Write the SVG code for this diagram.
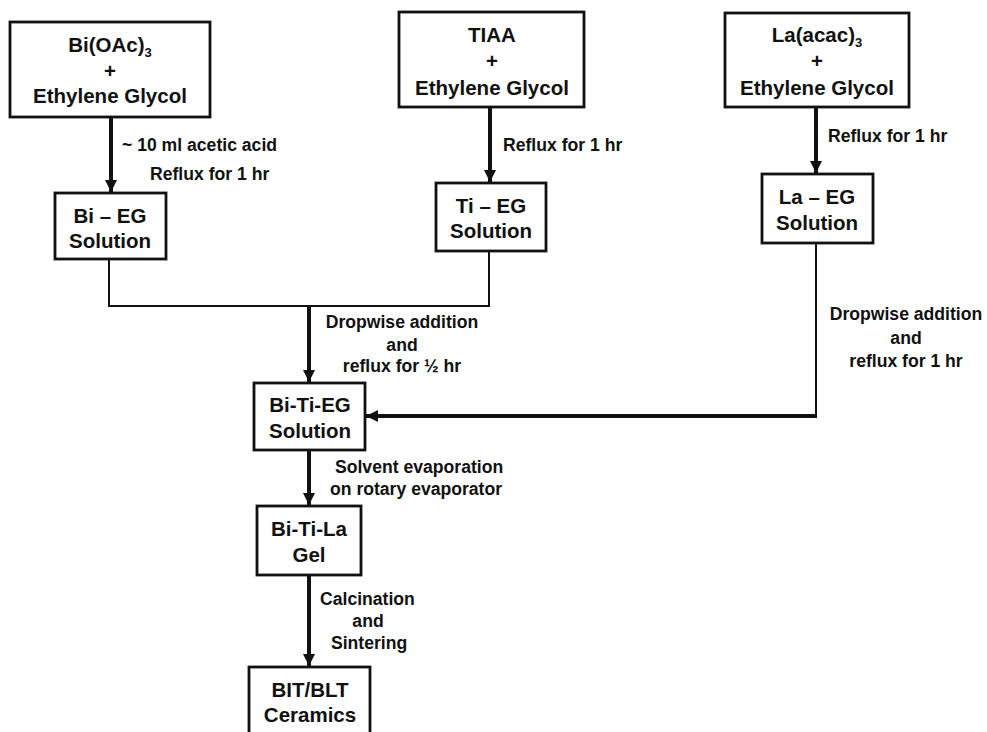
<svg xmlns="http://www.w3.org/2000/svg" width="987" height="732" viewBox="0 0 987 732">
<defs>
<marker id="ah" markerUnits="userSpaceOnUse" markerWidth="12" markerHeight="12" viewBox="0 0 12 12" refX="12" refY="6" orient="auto">
<path d="M0,0 L12,6 L0,12 Z" fill="#111"/>
</marker>
</defs>
<style>
.box{fill:#fff;stroke:#111;stroke-width:2.8}
.t{font-family:"Liberation Sans",Arial,sans-serif;font-weight:bold;font-size:20.5px;fill:#111;text-anchor:middle}
.l{font-family:"Liberation Sans",Arial,sans-serif;font-weight:bold;font-size:17.6px;fill:#111}
.lm{text-anchor:middle}
.thick{stroke:#111;stroke-width:4;fill:none}
.thin{stroke:#111;stroke-width:2;fill:none}
</style>
<rect width="987" height="732" fill="#fff"/>
<g id="connectors">
<line class="thick" x1="111" y1="117" x2="111" y2="192" marker-end="url(#ah)"/>
<line class="thick" x1="490" y1="107" x2="490" y2="182" marker-end="url(#ah)"/>
<line class="thick" x1="816" y1="107" x2="816" y2="173" marker-end="url(#ah)"/>
<polyline class="thin" points="109,259 109,306 489,306 489,251"/>
<line class="thick" x1="309" y1="306" x2="309" y2="382" marker-end="url(#ah)"/>
<line class="thin" x1="816" y1="243" x2="816" y2="417"/>
<line class="thick" x1="817" y1="416" x2="366" y2="416" stroke-width="3" marker-end="url(#ah)"/>
<line class="thick" x1="309" y1="450" x2="309" y2="505" marker-end="url(#ah)"/>
<line class="thick" x1="309" y1="575" x2="309" y2="666" marker-end="url(#ah)"/>
<text class="l" x="122" y="151">~ 10 ml acetic acid</text>
<text class="l" x="150" y="180">Reflux for 1 hr</text>
<text class="l" x="503" y="151">Reflux for 1 hr</text>
<text class="l" x="828" y="142">Reflux for 1 hr</text>
<text class="l lm" x="402" y="328">Dropwise addition</text>
<text class="l lm" x="402" y="351">and</text>
<text class="l lm" x="402" y="372">reflux for ½ hr</text>
<text class="l lm" x="906" y="320">Dropwise addition</text>
<text class="l lm" x="906" y="344">and</text>
<text class="l lm" x="906" y="367">reflux for 1 hr</text>
<text class="l" x="335" y="473">Solvent evaporation</text>
<text class="l" x="330" y="495">on rotary evaporator</text>
<text class="l" x="320" y="605">Calcination</text>
<text class="l lm" x="368" y="627">and</text>
<text class="l" x="331" y="649">Sintering</text>
</g>
<g id="bi-src">
<rect class="box" x="10" y="22" width="200" height="95"/>
<text class="t" x="110" y="52">Bi(OAc)<tspan font-size="13" dy="5">3</tspan></text>
<text class="t" x="110" y="78">+</text>
<text class="t" x="110" y="103">Ethylene Glycol</text>
</g>
<g id="ti-src">
<rect class="box" x="399" y="12" width="185" height="95"/>
<text class="t" x="492" y="42">TIAA</text>
<text class="t" x="492" y="68">+</text>
<text class="t" x="492" y="95">Ethylene Glycol</text>
</g>
<g id="la-src">
<rect class="box" x="725" y="13" width="184" height="94"/>
<text class="t" x="817" y="42">La(acac)<tspan font-size="13" dy="5">3</tspan></text>
<text class="t" x="817" y="68">+</text>
<text class="t" x="817" y="95">Ethylene Glycol</text>
</g>
<g id="bi-eg">
<rect class="box" x="55" y="193" width="111" height="66"/>
<text class="t" x="110" y="223">Bi – EG</text>
<text class="t" x="110" y="248">Solution</text>
</g>
<g id="ti-eg">
<rect class="box" x="436" y="183" width="110" height="68"/>
<text class="t" x="491" y="213">Ti – EG</text>
<text class="t" x="491" y="238">Solution</text>
</g>
<g id="la-eg">
<rect class="box" x="762" y="174" width="111" height="69"/>
<text class="t" x="817" y="204">La – EG</text>
<text class="t" x="817" y="230">Solution</text>
</g>
<g id="bi-ti-eg">
<rect class="box" x="254" y="383" width="111" height="67"/>
<text class="t" x="310" y="412">Bi-Ti-EG</text>
<text class="t" x="310" y="438">Solution</text>
</g>
<g id="gel">
<rect class="box" x="257" y="506" width="104" height="69"/>
<text class="t" x="309" y="536">Bi-Ti-La</text>
<text class="t" x="309" y="562">Gel</text>
</g>
<g id="ceramics">
<rect class="box" x="249" y="667" width="121" height="80"/>
<text class="t" x="310" y="697">BIT/BLT</text>
<text class="t" x="310" y="722">Ceramics</text>
</g>
</svg>
